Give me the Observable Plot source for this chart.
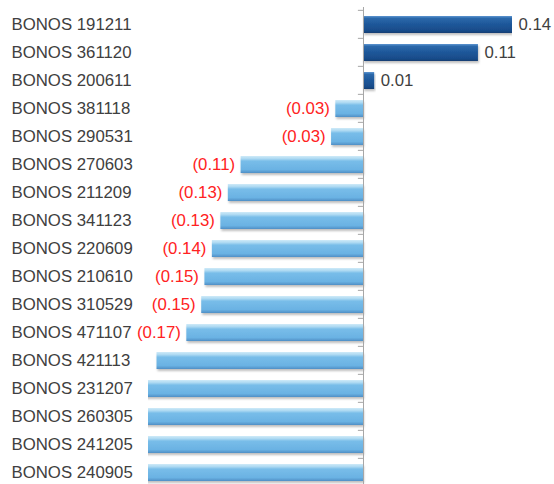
<!DOCTYPE html>
<html>
<head>
<meta charset="utf-8">
<script src="https://cdn.jsdelivr.net/npm/d3@7"></script>
<script src="https://cdn.jsdelivr.net/npm/@observablehq/plot@0.6"></script>
<style>
  html, body { margin: 0; padding: 0; background: white; }
</style>
</head>
<body>
<div id="chart"></div>
<script>
const categories = [
  "BONOS 191211", "BONOS 361120", "BONOS 200611", "BONOS 381118", "BONOS 290531",
  "BONOS 270603", "BONOS 211209", "BONOS 341123", "BONOS 220609", "BONOS 210610",
  "BONOS 310529", "BONOS 471107", "BONOS 421113", "BONOS 231207", "BONOS 260305",
  "BONOS 241205", "BONOS 240905"
];
const values = [
  0.140, 0.108, 0.0105, -0.026, -0.030,
  -0.115, -0.127, -0.134, -0.142, -0.149,
  -0.152, -0.166, -0.194, -0.26, -0.30,
  -0.34, -0.38
];
const valueLabels = [
  "0.14", "0.11", "0.01", "(0.03)", "(0.03)",
  "(0.11)", "(0.13)", "(0.13)", "(0.14)", "(0.15)",
  "(0.15)", "(0.17)", null, null, null,
  null, null
];

const data = categories.map((c, i) => ({cat: c, value: values[i], label: valueLabels[i]}));
const step = (488 - 7) / categories.length;

const chart = Plot.plot({
  width: 554,
  height: 484,
  marginLeft: 148,
  marginRight: 42,
  marginTop: 7,
  marginBottom: 0,
  x: {domain: [-0.202, 0.14], axis: null},
  y: {domain: categories, range: [7, 488], padding: 0, axis: null},
  style: {fontFamily: "'Liberation Sans', Arial, sans-serif", fontSize: "16.8px", background: "white", overflow: "visible"},
  marks: [
    Plot.barX(data, {
      x1: 0, x2: "value", y: "cat",
      fill: d => d.value >= 0 ? "url(#gDark)" : "url(#gLight)",
      insetTop: 6, insetBottom: 5, clip: true
    }),
    Plot.ruleX([0], {stroke: "#a6a6a6", strokeWidth: 1}),
    Plot.ruleY(categories, {y: d => d, x1: -0.0048, x2: 0, dy: -step / 2, stroke: "#a6a6a6"}),
    Plot.text(data.filter(d => d.label && d.value >= 0), {
      x: "value", y: "cat", text: "label", textAnchor: "start", dx: 6, dy: 0, fill: "#404040"
    }),
    Plot.text(data.filter(d => d.label && d.value < 0), {
      x: "value", y: "cat", text: "label", textAnchor: "end", dx: -6, dy: 0, fill: "#ff2222"
    }),
    Plot.text(data, {
      y: "cat", text: "cat", frameAnchor: "left", textAnchor: "start", dx: -137, dy: 0, fill: "#404040"
    })
  ]
});

const svg = d3.select(chart);
const defs = svg.insert("defs", ":first-child");
const gd = defs.append("linearGradient").attr("id", "gDark").attr("x1", 0).attr("y1", 0).attr("x2", 0).attr("y2", 1);
[[0, "#5c95d0"], [0.14, "#2c68aa"], [0.5, "#1d5799"], [0.86, "#194c8a"], [1, "#123d72"]]
  .forEach(([o, c]) => gd.append("stop").attr("offset", o).attr("stop-color", c));
const gl = defs.append("linearGradient").attr("id", "gLight").attr("x1", 0).attr("y1", 0).attr("x2", 0).attr("y2", 1);
[[0, "#cfeaf8"], [0.16, "#acd9f2"], [0.3, "#78bde9"], [0.8, "#6ab2e3"], [1, "#4f8fc6"]]
  .forEach(([o, c]) => gl.append("stop").attr("offset", o).attr("stop-color", c));
const f = defs.append("filter").attr("id", "sh").attr("x", "-5%").attr("y", "-30%").attr("width", "115%").attr("height", "180%");
f.append("feDropShadow").attr("dx", 1).attr("dy", 2).attr("stdDeviation", 1.2).attr("flood-color", "#000").attr("flood-opacity", 0.25);
svg.selectAll("g[aria-label=bar] rect").attr("filter", "url(#sh)");

document.getElementById("chart").appendChild(chart);
</script>
</body>
</html>
